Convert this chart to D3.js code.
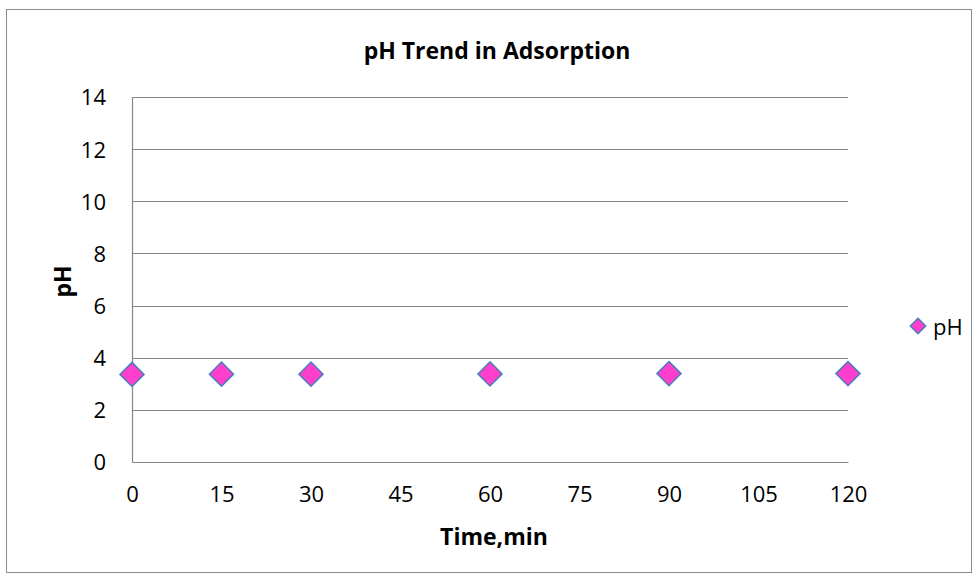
<!DOCTYPE html>
<html>
<head>
<meta charset="utf-8">
<script src="https://cdn.jsdelivr.net/npm/d3@7"></script>
<style>
  html, body { margin: 0; padding: 0; background: #fff; }
  text { font-family: "Open Sans", "Liberation Sans", sans-serif; fill: #000; }
</style>
</head>
<body>
<svg id="chart" width="978" height="579"></svg>
<script>
// Sampling times (min) and measured pH
const times = [0, 15, 30, 60, 90, 120];
const phValues = [3.36, 3.37, 3.37, 3.38, 3.39, 3.39];
const xTicks = [0, 15, 30, 45, 60, 75, 90, 105, 120];
const yTicks = [0, 2, 4, 6, 8, 10, 12, 14];

const svg = d3.select("#chart");
const margin = { left: 132, right: 130, top: 97, bottom: 117 };
const W = 978, H = 579;
const FONT = "'Open Sans', sans-serif";

// Outer chart frame
svg.append("rect")
  .attr("x", 6.5).attr("y", 9.5).attr("width", 965).attr("height", 563)
  .attr("fill", "#fff").attr("stroke", "#8c8c8c").attr("stroke-width", 1);

const x = d3.scaleLinear().domain([0, 120]).range([margin.left, W - margin.right]);
const y = d3.scaleLinear().domain([0, 14]).range([H - margin.bottom, margin.top]);

// Horizontal gridlines
svg.append("g").selectAll("line").data(yTicks.filter(d => d > 0)).join("line")
  .attr("x1", x(0)).attr("x2", x(120))
  .attr("y1", d => Math.round(y(d)) + 0.5).attr("y2", d => Math.round(y(d)) + 0.5)
  .attr("stroke", "#868686").attr("stroke-width", 1.2);

// Y axis
const yAxis = svg.append("g")
  .attr("transform", `translate(${x(0)},0)`)
  .call(d3.axisLeft(y).tickValues(yTicks).tickSize(0).tickPadding(26));
yAxis.select(".domain").attr("stroke", "#868686").attr("stroke-width", 1.2);
yAxis.selectAll("text").attr("font-size", 22).attr("font-family", FONT).attr("dy", "0.36em");

// X axis
const xAxis = svg.append("g")
  .attr("transform", `translate(0,${y(0)})`)
  .call(d3.axisBottom(x).tickValues(xTicks).tickSize(0).tickPadding(24));
xAxis.select(".domain").attr("stroke", "#868686").attr("stroke-width", 1.2);
xAxis.selectAll("text").attr("font-size", 22).attr("font-family", FONT);

// Titles
svg.append("text").attr("x", 497).attr("y", 59).attr("text-anchor", "middle")
  .attr("font-size", 23).attr("font-weight", "bold").text("pH Trend in Adsorption");
svg.append("text").attr("x", 494).attr("y", 545).attr("text-anchor", "middle")
  .attr("font-size", 23).attr("font-weight", "bold").text("Time,min");
svg.append("text")
  .attr("transform", `translate(71,${y(7) + 2}) rotate(-90)`)
  .attr("text-anchor", "middle")
  .attr("font-size", 23).attr("font-weight", "bold").text("pH");

// Diamond markers
const diamond = d3.symbol().type(d3.symbolDiamond2).size(370);
svg.append("g").selectAll("path").data(times.map((t, i) => [t, phValues[i]])).join("path")
  .attr("d", diamond)
  .attr("transform", d => `translate(${x(d[0])},${y(d[1])})`)
  .attr("fill", "#ff3fcc").attr("stroke", "#4a7ebb").attr("stroke-width", 1.5);

// Legend
const leg = svg.append("g").attr("transform", "translate(918,326)");
leg.append("path").attr("d", d3.symbol().type(d3.symbolDiamond2).size(150))
  .attr("fill", "#ff3fcc").attr("stroke", "#4a7ebb").attr("stroke-width", 1.5);
leg.append("text").attr("x", 15).attr("y", 9).attr("font-size", 22).text("pH");
</script>
</body>
</html>
